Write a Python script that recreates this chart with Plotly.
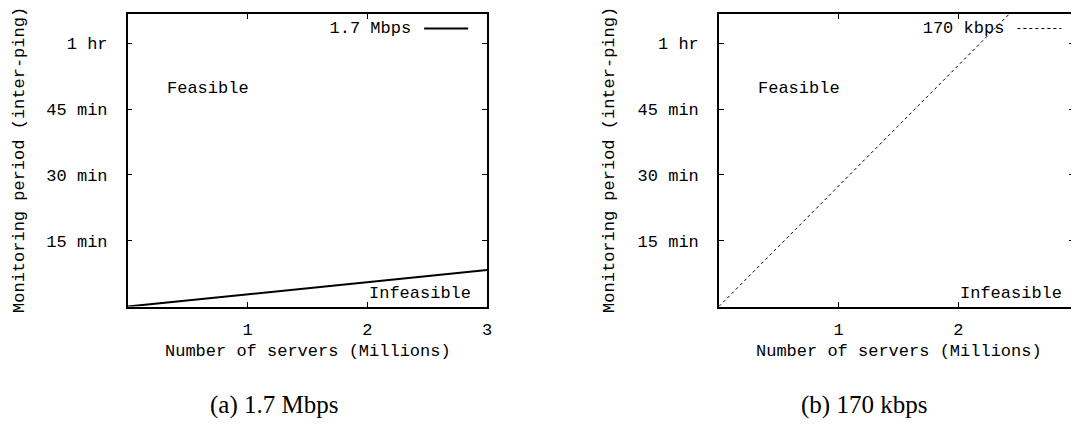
import plotly.graph_objects as go

# ---- data ----
servers_millions = [0, 3]                 # Number of servers (Millions)
period_17mbps_s = [0, 500]                # monitoring period, seconds, 1.7 Mbps
period_170kbps_s = [0, 4950]              # monitoring period, seconds, 170 kbps

x_ticks = [1, 2, 3]
x_tick_labels = ["1", "2", "3"]
y_ticks = [900, 1800, 2700, 3600]
y_tick_labels = ["15 min", "30 min", "45 min", "1 hr"]
y_max_s = 4000
x_max_left = 3
x_max_right = 2.965   # right panel is cut off at the page edge

series_labels = ["1.7 Mbps", "170 kbps"]
captions = ["(a) 1.7 Mbps", "(b) 170 kbps"]

# page is 1079x437; the html body adds an 8px margin, so the figure is
# sized to fill the rest of the window exactly
PAGE_OFF = 8
FW, FH = 1079 - PAGE_OFF, 437 - PAGE_OFF


def px(p):
    return (p - PAGE_OFF) / FW


def py(p):
    return (FH - (p - PAGE_OFF)) / FH


MONO = "Liberation Mono"
FS = 17

fig = go.Figure()
fig.add_trace(go.Scatter(x=servers_millions, y=period_17mbps_s, mode="lines",
                         line=dict(color="black", width=2), name="",
                         legend="legend", xaxis="x", yaxis="y",
                         hoverinfo="skip"))
fig.add_trace(go.Scatter(x=servers_millions, y=period_170kbps_s, mode="lines",
                         line=dict(color="black", width=1, dash="dot"), name="",
                         legend="legend2", xaxis="x2", yaxis="y2",
                         hoverinfo="skip"))
# empty trace so the right-side (mirrored) tick axis of panel (b) is built
fig.add_trace(go.Scatter(x=[], y=[], xaxis="x2", yaxis="y3", showlegend=False,
                         hoverinfo="skip"))

ydom = [py(306.5), py(14)]
xdom1 = [px(128.3), px(489.3)]
xdom2 = [px(722.3), 1.0]

axis_common = dict(showgrid=False, zeroline=False, showline=True,
                   linecolor="black", linewidth=1.5, ticks="inside",
                   ticklen=5, tickwidth=1, tickcolor="black",
                   tickfont=dict(family=MONO, size=FS, color="black"))

fig.update_layout(
    width=FW, height=FH,
    margin=dict(l=0, r=0, t=0, b=0),
    paper_bgcolor="white", plot_bgcolor="white",
    xaxis=dict(domain=xdom1, range=[0, x_max_left], tickvals=x_ticks,
               ticktext=x_tick_labels, mirror="ticks", anchor="y",
               ticklabelstandoff=6, **axis_common),
    yaxis=dict(domain=ydom, range=[0, y_max_s], tickvals=y_ticks,
               ticktext=y_tick_labels, mirror="ticks", anchor="x",
               ticklabelstandoff=15, **axis_common),
    xaxis2=dict(domain=xdom2, range=[0, x_max_right], tickvals=x_ticks,
                ticktext=x_tick_labels, mirror="ticks", anchor="y2",
                ticklabelstandoff=6, **axis_common),
    yaxis2=dict(domain=ydom, range=[0, y_max_s], tickvals=y_ticks,
                ticktext=y_tick_labels, mirror=False, anchor="x2",
                ticklabelstandoff=15, **axis_common),
    yaxis3=dict(overlaying="y2", anchor="x2", side="right",
                range=[0, y_max_s], tickvals=y_ticks, showticklabels=False,
                showgrid=False, zeroline=False, showline=False,
                ticks="inside", ticklen=5, tickwidth=1, tickcolor="black"),
    legend=dict(x=px(329), y=py(11), xanchor="left", yanchor="top",
                bgcolor="rgba(0,0,0,0)", itemwidth=44,
                font=dict(family=MONO, size=FS, color="black"),
                title=dict(text=series_labels[0], side="left",
                           font=dict(family=MONO, size=FS, color="black"))),
    legend2=dict(x=px(925), y=py(11), xanchor="left", yanchor="top",
                 bgcolor="rgba(0,0,0,0)", itemwidth=44,
                 font=dict(family=MONO, size=FS, color="black"),
                 title=dict(text=series_labels[1], side="left",
                            font=dict(family=MONO, size=FS, color="black"))),
    showlegend=True,
)

ann_font = dict(family=MONO, size=FS, color="black")
annotations = [
    # region labels
    dict(x=0.31, y=2975, xref="x", yref="y", text="Feasible", showarrow=False,
         xanchor="left", yanchor="middle", font=ann_font),
    dict(x=2.0, y=178, xref="x", yref="y", text="Infeasible", showarrow=False,
         xanchor="left", yanchor="middle", font=ann_font),
    dict(x=0.31, y=2975, xref="x2", yref="y2", text="Feasible", showarrow=False,
         xanchor="left", yanchor="middle", font=ann_font),
    dict(x=2.0, y=178, xref="x2", yref="y2", text="Infeasible", showarrow=False,
         xanchor="left", yanchor="middle", font=ann_font),
    # axis titles
    dict(x=px(19), y=py(160), xref="paper", yref="paper",
         text="Monitoring period (inter-ping)", textangle=-90, showarrow=False,
         xanchor="center", yanchor="middle", font=ann_font),
    dict(x=px(611.7), y=py(160), xref="paper", yref="paper",
         text="Monitoring period (inter-ping)", textangle=-90, showarrow=False,
         xanchor="center", yanchor="middle", font=ann_font),
    dict(x=px(309), y=py(351), xref="paper", yref="paper",
         text="Number of servers (Millions)", showarrow=False,
         xanchor="center", yanchor="middle", font=ann_font),
    dict(x=px(903), y=py(351), xref="paper", yref="paper",
         text="Number of servers (Millions)", showarrow=False,
         xanchor="center", yanchor="middle", font=ann_font),
    # captions
    dict(x=px(275), y=py(405), xref="paper", yref="paper",
         text=captions[0], showarrow=False, xanchor="center", yanchor="middle",
         font=dict(family="Liberation Serif", size=25, color="black")),
    dict(x=px(868), y=py(405), xref="paper", yref="paper",
         text=captions[1], showarrow=False, xanchor="center", yanchor="middle",
         font=dict(family="Liberation Serif", size=25, color="black")),
]
fig.update_layout(annotations=annotations)

fig.write_html("out.html")
